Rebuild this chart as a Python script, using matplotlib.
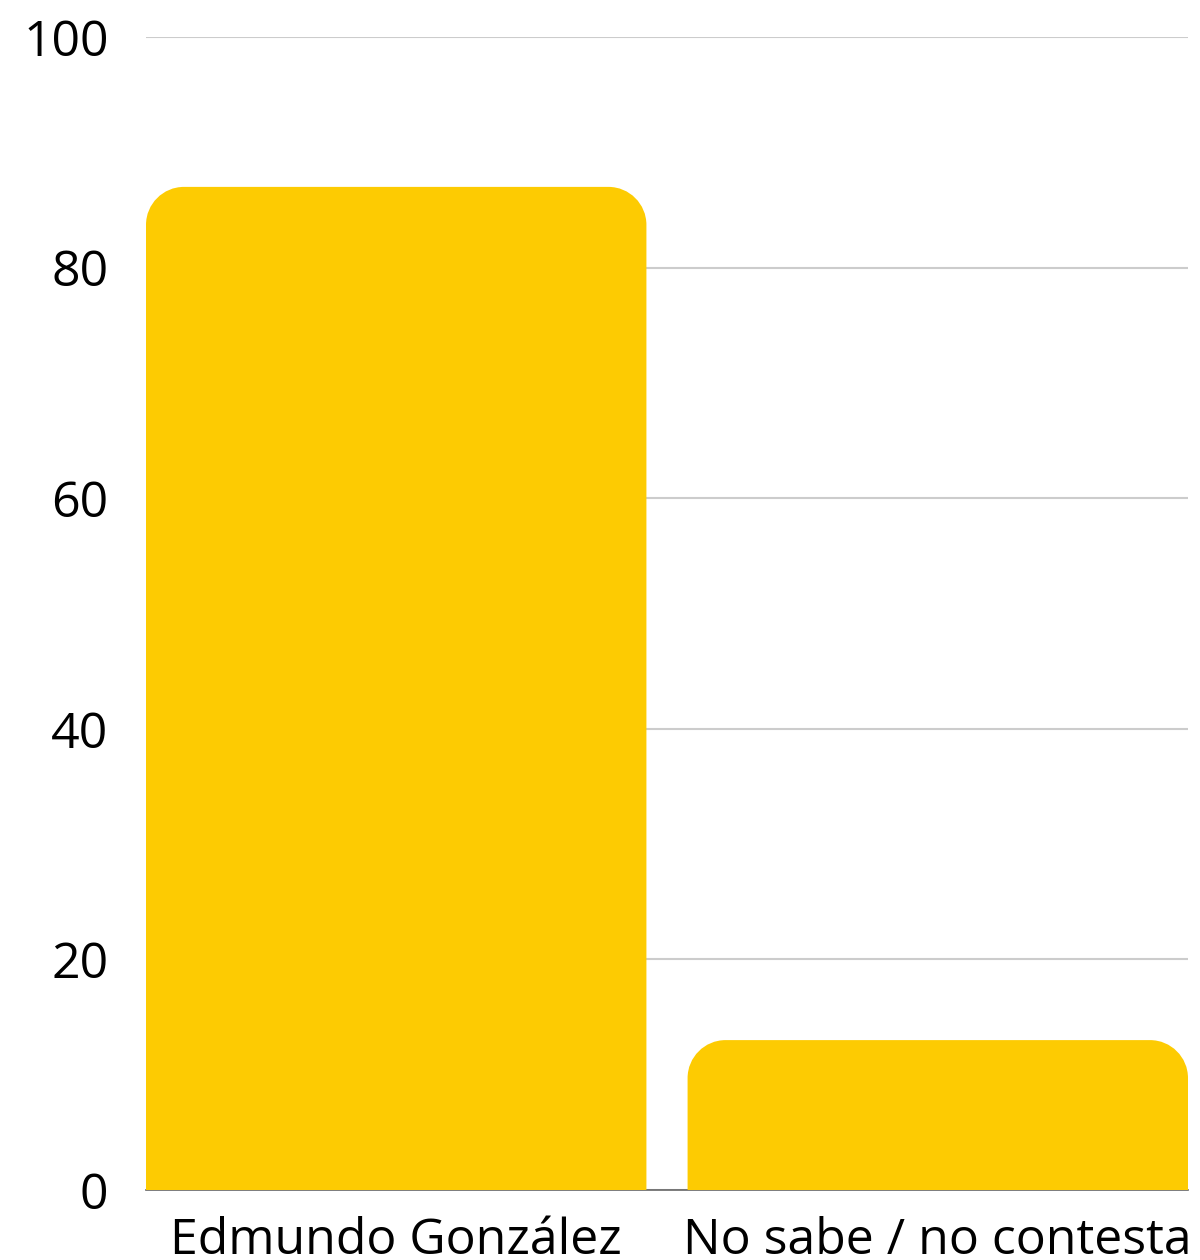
import matplotlib
matplotlib.use("Agg")
import matplotlib.pyplot as plt
from matplotlib.path import Path
from matplotlib.patches import PathPatch

categories = ["Edmundo González", "No sabe / no contesta"]
values = [87, 13]
yticks = [0, 20, 40, 60, 80, 100]

bar_color = "#fdcb02"
bar_width = 0.924
radius_px = 38

plt.rcParams["font.family"] = ["Open Sans", "DejaVu Sans"]

fig = plt.figure(figsize=(12, 12.6), dpi=100)
ax = fig.add_axes([146 / 1200, 70 / 1260, 1042 / 1200, 1153 / 1260])

bars = ax.bar(range(len(categories)), values, width=bar_width, color=bar_color, zorder=3)
ax.set_xlim(-bar_width / 2, len(categories) - 1 + bar_width / 2)
ax.set_ylim(0, 100)

# swap square bars for ones with rounded top corners
fig.canvas.draw()
px_x = ax.transData.transform((1, 0))[0] - ax.transData.transform((0, 0))[0]
px_y = ax.transData.transform((0, 1))[1] - ax.transData.transform((0, 0))[1]
rx = radius_px / px_x
ry = radius_px / px_y
k = 0.5523
for b in bars:
    x0, y0 = b.get_x(), b.get_y()
    x1, y1 = x0 + b.get_width(), y0 + b.get_height()
    verts = [
        (x0, y0), (x0, y1 - ry),
        (x0, y1 - ry + k * ry), (x0 + rx - k * rx, y1), (x0 + rx, y1),
        (x1 - rx, y1),
        (x1 - rx + k * rx, y1), (x1, y1 - ry + k * ry), (x1, y1 - ry),
        (x1, y0), (x0, y0),
    ]
    codes = [Path.MOVETO, Path.LINETO,
             Path.CURVE4, Path.CURVE4, Path.CURVE4,
             Path.LINETO,
             Path.CURVE4, Path.CURVE4, Path.CURVE4,
             Path.LINETO, Path.CLOSEPOLY]
    ax.add_patch(PathPatch(Path(verts, codes), facecolor=bar_color, edgecolor="none", zorder=3))
    b.set_visible(False)

ax.set_yticks(yticks)
ax.set_yticklabels([str(t) for t in yticks])
ax.set_xticks(range(len(categories)))
ax.set_xticklabels(categories)
ax.grid(axis="y", color="#cccccc", linewidth=1.5, zorder=0)
ax.set_axisbelow(True)
for s in ["top", "right", "left"]:
    ax.spines[s].set_visible(False)
ax.spines["bottom"].set_color("#666666")
ax.spines["bottom"].set_linewidth(1.2)
ax.tick_params(axis="y", length=0, pad=27, labelsize=36, labelcolor="black")
ax.tick_params(axis="x", length=0, pad=19, labelsize=36, labelcolor="black")

fig.savefig("out.png", dpi=100)
